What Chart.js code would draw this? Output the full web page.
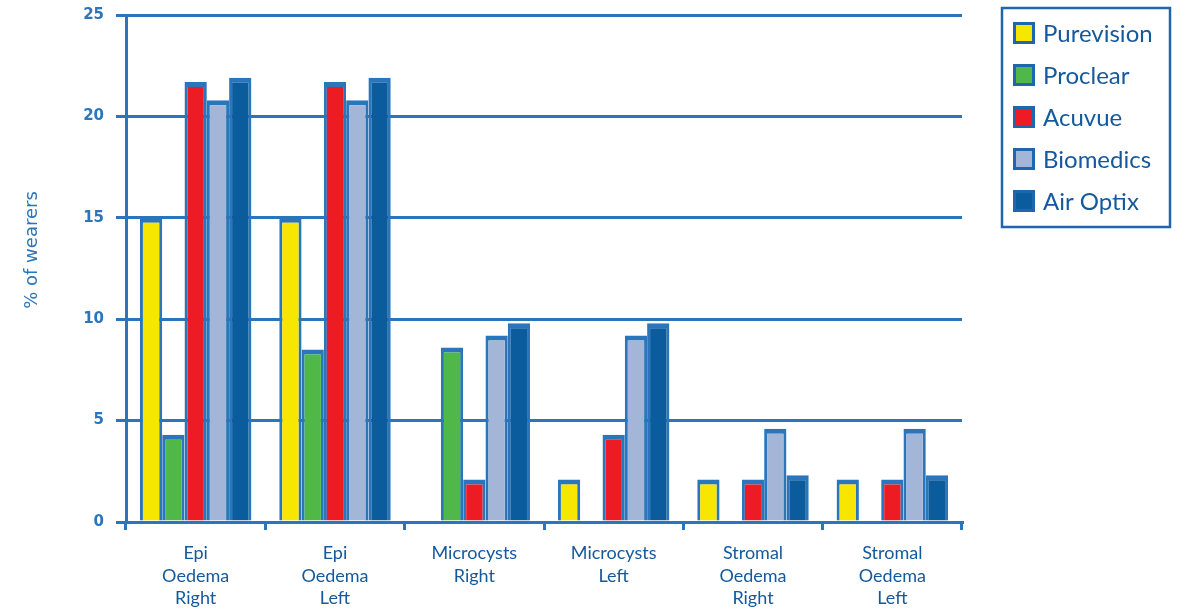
<!DOCTYPE html>
<html>
<head>
<meta charset="utf-8">
<script src="https://cdn.jsdelivr.net/npm/chart.js@4.4.1/dist/chart.umd.min.js"></script>
<style>
  html, body { margin: 0; padding: 0; background: #fff; }
  canvas { display: block; }
</style>
</head>
<body>
<canvas id="chart" width="1180" height="613"></canvas>
<script>
// data
var categories = [
    ["Epi", "Oedema", "Right"],
    ["Epi", "Oedema", "Left"],
    ["Microcysts", "Right"],
    ["Microcysts", "Left"],
    ["Stromal", "Oedema", "Right"],
    ["Stromal", "Oedema", "Left"]
];
var seriesNames = ["Purevision", "Proclear", "Acuvue", "Biomedics", "Air Optix"];
var purevision = [15.0, 15.0, 0, 2.1, 2.1, 2.1];
var proclear   = [4.3, 8.5, 8.6, 0, 0, 0];
var acuvue     = [21.7, 21.7, 2.1, 4.3, 2.1, 2.1];
var biomedics  = [20.8, 20.8, 9.2, 9.2, 4.6, 4.6];
var airOptix   = [21.9, 21.9, 9.8, 9.8, 2.3, 2.3];
var yTicks = [0, 5, 10, 15, 20, 25];

var seriesColors = ["#f7e600", "#50b848", "#ed1c24", "#a3b6d8", "#0a5c9c"];
var lineBlue = "#2a75bb";
var textBlue = "#15599d";

var values = [purevision, proclear, acuvue, biomedics, airOptix];

var datasets = seriesNames.map(function (name, i) {
    return {
        label: name,
        data: values[i],
        backgroundColor: seriesColors[i],
        borderColor: lineBlue,
        borderWidth: {top: 5, left: 3, right: 3, bottom: 0},
        borderSkipped: false,
        barPercentage: 1.0,
        categoryPercentage: 0.8
    };
});

// Legend in a box + y title
var extras = {
    id: "extras",
    afterDraw: function (chart) {
        var ctx = chart.ctx;
        ctx.save();
        // legend frame
        ctx.strokeStyle = "#1f66ae";
        ctx.lineWidth = 2.5;
        ctx.strokeRect(1002, 8, 168, 219);
        chart.data.datasets.forEach(function (ds, i) {
            var cy = 33 + 42 * i;
            ctx.fillStyle = ds.backgroundColor;
            ctx.fillRect(1013, cy - 11, 22, 22);
            ctx.strokeStyle = "#1f66ae";
            ctx.lineWidth = 3;
            ctx.strokeRect(1014.5, cy - 9.5, 19, 19);
            ctx.fillStyle = textBlue;
            ctx.font = "24px Lato";
            ctx.textAlign = "left";
            ctx.textBaseline = "middle";
            ctx.fillText(ds.label, 1043, cy + 1);
        });
        // y axis title
        ctx.translate(32, 250);
        ctx.rotate(-Math.PI / 2);
        ctx.fillStyle = lineBlue;
        ctx.font = "18px 'DejaVu Sans'";
        ctx.textAlign = "center";
        ctx.textBaseline = "middle";
        ctx.fillText("% of wearers", 0, 0);
        ctx.restore();
    }
};

var ctx1 = document.getElementById("chart").getContext("2d");
var myChart = new Chart(ctx1, {
    type: "bar",
    data: {
        labels: categories,
        datasets: datasets
    },
    options: {
        responsive: false,
        animation: false,
        layout: {padding: {top: 15, right: 218, left: 0, bottom: 0}, autoPadding: false},
        plugins: {
            legend: {display: false},
            tooltip: {enabled: false}
        },
        scales: {
            x: {
                afterFit: function (scale) { scale.height = 91; },
                grid: {
                    offset: true,
                    drawOnChartArea: false,
                    drawTicks: true,
                    tickLength: 8,
                    color: lineBlue,
                    lineWidth: 3
                },
                border: {display: true, color: lineBlue, width: 3},
                ticks: {
                    color: textBlue,
                    font: {family: "Lato", size: 18, lineHeight: 1.25},
                    padding: 12,
                    maxRotation: 0,
                    autoSkip: false
                }
            },
            y: {
                min: 0,
                max: 25,
                afterFit: function (scale) {
                    scale.width = 126;
                    scale.paddingTop = 0;
                    scale.paddingBottom = 0;
                },
                afterBuildTicks: function (scale) {
                    scale.ticks = yTicks.map(function (v) { return {value: v}; });
                },
                grid: {
                    color: lineBlue,
                    lineWidth: 3,
                    tickLength: 10
                },
                border: {display: true, color: lineBlue, width: 3},
                ticks: {
                    color: lineBlue,
                    font: {family: "DejaVu Sans", size: 15, weight: "bold"},
                    padding: 12
                }
            }
        }
    },
    plugins: [extras]
});
</script>
</body>
</html>
